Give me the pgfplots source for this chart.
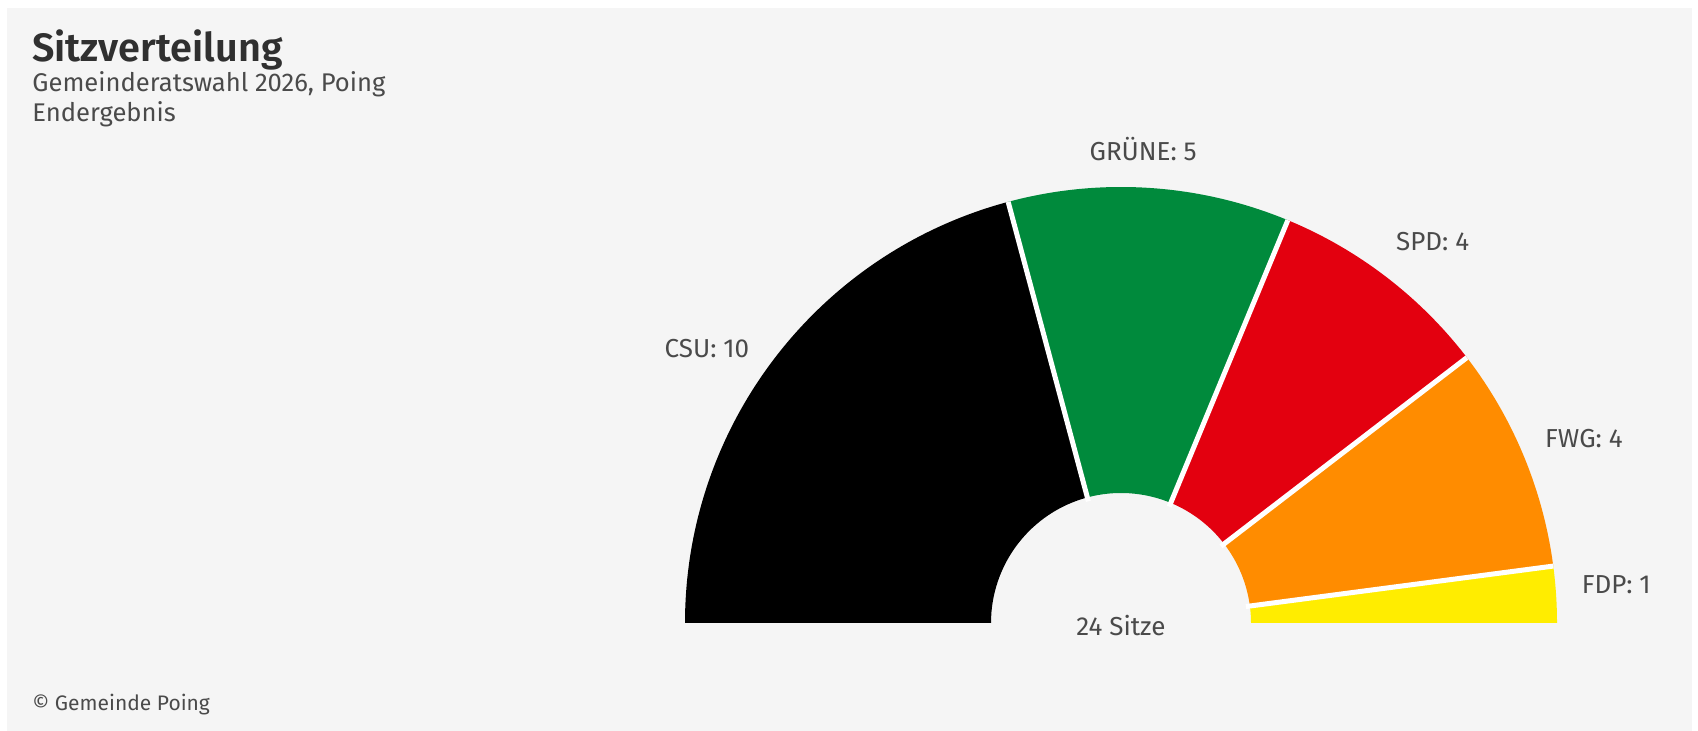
\documentclass[border=0pt]{standalone}
\usepackage{pgfplots}
\usepackage{pgfplotstable}
\pgfplotsset{compat=1.18}
\usepackage{fontspec}
\setmainfont{Fira Sans}
\newfontfamily\titlefont{Fira Sans SemiBold}
\definecolor{bg}{HTML}{F5F5F5}
\definecolor{csu}{HTML}{000000}
\definecolor{gruene}{HTML}{008A3C}
\definecolor{spd}{HTML}{E3000F}
\definecolor{fwg}{HTML}{FF8C00}
\definecolor{fdp}{HTML}{FFED00}
\definecolor{txt}{HTML}{4A4A4A}
\definecolor{ttl}{HTML}{303030}

\pgfplotstableread[col sep=comma]{
party,seats,color,anchor
CSU,10,csu,east
GRÜNE,5,gruene,south
SPD,4,spd,south west
FWG,4,fwg,west
FDP,1,fdp,west
}\seattab

\begin{document}
\begin{tikzpicture}
\begin{axis}[hide axis, scale only axis, x=0.5pt, y=0.5pt,
  xmin=0, xmax=1698, ymin=0, ymax=731, clip=false]
\fill[white] (axis cs:0,0) rectangle (axis cs:1698,731);
\fill[bg] (axis cs:7,0) rectangle (axis cs:1692,723);
\def\total{0}
\pgfplotsforeachungrouped \i in {0,...,4}{%
  \pgfplotstablegetelem{\i}{seats}\of\seattab
  \pgfmathsetmacro\total{\total+\pgfplotsretval}%
}
\def\cum{0}
\pgfplotsforeachungrouped \i in {0,...,4}{%
  \pgfplotstablegetelem{\i}{seats}\of\seattab \let\s\pgfplotsretval
  \pgfplotstablegetelem{\i}{color}\of\seattab \let\c\pgfplotsretval
  \pgfplotstablegetelem{\i}{anchor}\of\seattab \let\an\pgfplotsretval
  \pgfplotstablegetelem{\i}{party}\of\seattab \let\p\pgfplotsretval
  \pgfmathsetmacro\aStart{180-180*\cum/\total}%
  \pgfmathsetmacro\cum{\cum+\s}%
  \pgfmathsetmacro\aEnd{180-180*\cum/\total}%
  \pgfmathsetmacro\aMid{(\aStart+\aEnd)/2+1}%
  \edef\temp{%
    \noexpand\fill[\c, shift={(axis cs:1121,108)}] (\aStart:218pt) arc[start angle=\aStart, end angle=\aEnd, radius=218pt] -- (\aEnd:65pt) arc[start angle=\aEnd, end angle=\aStart, radius=65pt] -- cycle;
    \noexpand\node[anchor=\an, inner sep=0pt, text=txt, font=\noexpand\fontsize{13}{15}\noexpand\selectfont, shift={(axis cs:1121,108)}] at (\aMid:231pt) {\p: \s};
  }%
  \temp
}
\def\cum{0}
\pgfplotsforeachungrouped \i in {0,...,3}{%
  \pgfplotstablegetelem{\i}{seats}\of\seattab
  \pgfmathsetmacro\cum{\cum+\pgfplotsretval}%
  \pgfmathsetmacro\aB{180-180*\cum/\total}%
  \edef\temp{\noexpand\draw[white, line width=2.5pt, shift={(axis cs:1121,108)}] (\aB:63pt) -- (\aB:218pt);}%
  \temp
}
\node[anchor=base, inner sep=0pt, text=txt, font=\fontsize{13}{15}\selectfont] at (axis cs:1121,95) {24 Sitze};
\node[anchor=base west, inner sep=0pt, text=ttl, font=\titlefont\fontsize{19.8}{24}\selectfont] at (axis cs:32,669) {Sitzverteilung};
\node[anchor=base west, inner sep=0pt, text=txt, font=\fontsize{12.8}{15}\selectfont] at (axis cs:32,639) {Gemeinderatswahl 2026, Poing};
\node[anchor=base west, inner sep=0pt, text=txt, font=\fontsize{12.8}{15}\selectfont] at (axis cs:32,609) {Endergebnis};
\node[anchor=base west, inner sep=0pt, text=txt, font=\fontsize{10.5}{13}\selectfont] at (axis cs:32,20) {© Gemeinde Poing};
\end{axis}
\end{tikzpicture}
\end{document}
